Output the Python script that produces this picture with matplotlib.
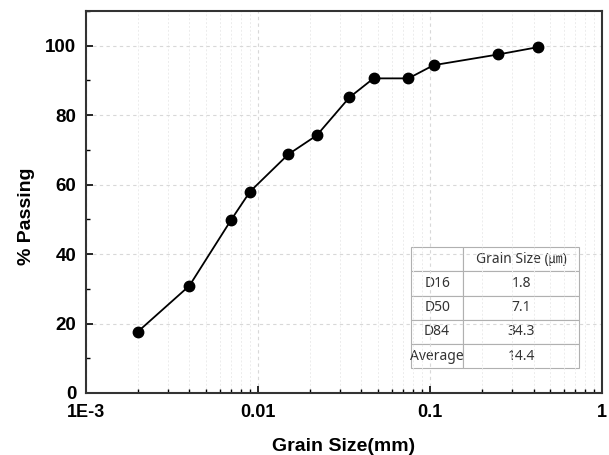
import matplotlib
matplotlib.use("Agg")
import matplotlib.pyplot as plt
import matplotlib.ticker as ticker

# Particle size distribution (mm vs % passing)
grain_size = [0.002, 0.004, 0.007, 0.009, 0.015, 0.022, 0.034, 0.047, 0.075, 0.105, 0.25, 0.425]
passing = [17.6, 30.9, 49.9, 58.0, 68.7, 74.2, 85.1, 90.6, 90.6, 94.4, 97.5, 99.6]

# Summary table
row_names = ["D16", "D50", "D84", "Average"]
row_values = ["1.8", "7.1", "34.3", "14.4"]
col_header = "Grain Size (\u339b)"

x_ticks = [1e-3, 0.01, 0.1, 1]
x_tick_labels = ["1E-3", "0.01", "0.1", "1"]

plt.rcParams["font.family"] = ["Liberation Sans", "DejaVu Sans"]

fig = plt.figure(figsize=(6.09, 4.55), dpi=100)
ax = fig.add_axes([0.141, 0.1363, 0.8475, 0.8395])

ax.plot(grain_size, passing, color="black", lw=1.3, marker="o", ms=7.5, zorder=3)

ax.set_xscale("log")
ax.set_xlim(1e-3, 1)
ax.set_ylim(0, 110)
ax.set_xticks(x_ticks)
ax.set_xticklabels(x_tick_labels)
ax.xaxis.set_minor_locator(ticker.LogLocator(base=10, subs=range(2, 10)))
ax.xaxis.set_minor_formatter(ticker.NullFormatter())
ax.set_yticks([0, 20, 40, 60, 80, 100])
ax.yaxis.set_minor_locator(ticker.MultipleLocator(10))

ax.grid(which="major", color="#d8d8d8", ls=(0, (3, 3)), lw=0.8)
ax.grid(which="minor", axis="x", color="#ececec", ls=(0, (2, 2)), lw=0.7)
ax.set_axisbelow(True)

for s in ax.spines.values():
    s.set_linewidth(1.5)
    s.set_color("#333333")

ax.tick_params(which="major", direction="in", length=5, width=1.2,
               labelsize=13.5, top=False, right=False)
ax.tick_params(which="minor", direction="in", length=3, width=1.0,
               top=False, right=False)
ax.tick_params(axis="x", labelsize=13, pad=8)
ax.tick_params(axis="y", pad=7)
for lab in ax.get_xticklabels() + ax.get_yticklabels():
    lab.set_fontweight("bold")

ax.set_xlabel("Grain Size(mm)", fontsize=14, fontweight="bold", labelpad=12)
ax.set_ylabel("% Passing", fontsize=14, fontweight="bold")
ax.yaxis.set_label_coords(-0.099, 0.463)

cells = [["", col_header]] + [[n, v] for n, v in zip(row_names, row_values)]
tbl = ax.table(cellText=cells, cellLoc="center",
               colWidths=[0.31, 0.69],
               bbox=[0.630, 0.065, 0.326, 0.317])
tbl.auto_set_font_size(False)
for (r, c), cell in tbl.get_celld().items():
    cell.set_edgecolor("#b0b0b0")
    cell.set_linewidth(0.8)
    cell.set_facecolor("white")
    cell.PAD = 0.02
    cell.get_text().set_fontsize(10)
    cell.get_text().set_color("#333333")
    cell.get_text().set_fontfamily(["Noto Sans", "Noto Sans CJK KR", "DejaVu Sans"])

fig.savefig("out.png", dpi=100)
